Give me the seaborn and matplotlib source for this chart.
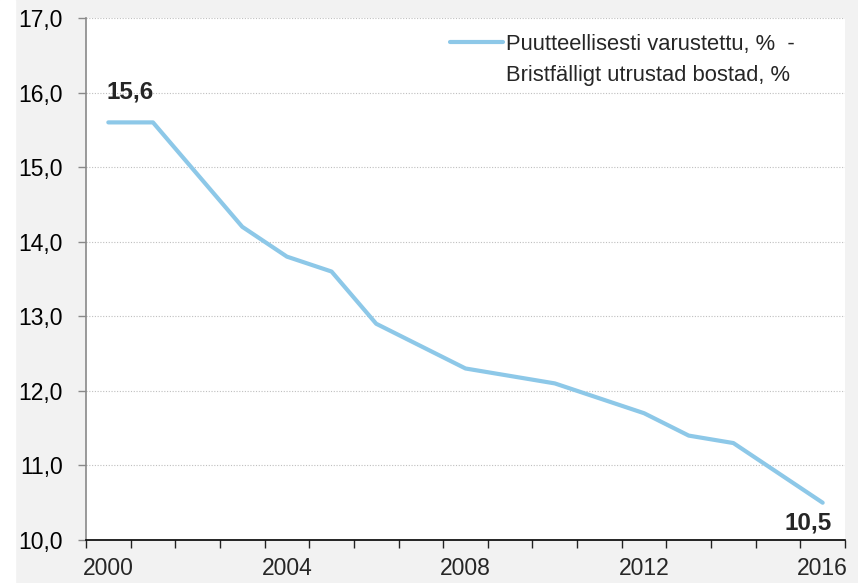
import matplotlib.pyplot as plt
import numpy as np
import seaborn as sns
from matplotlib.lines import Line2D
from matplotlib.patches import Rectangle
from matplotlib.ticker import FuncFormatter

years = [2000, 2001, 2002, 2003, 2004, 2005, 2006, 2007, 2008,
         2009, 2010, 2011, 2012, 2013, 2014, 2015, 2016]
values = [15.6, 15.6, 14.9, 14.2, 13.8, 13.6, 12.9, 12.6, 12.3,
          12.2, 12.1, 11.9, 11.7, 11.4, 11.3, 10.9, 10.5]
label_line1 = "Puutteellisesti varustettu, %  -"
label_line2 = "Bristfälligt utrustad bostad, %"
year_labels = [2000, 2004, 2008, 2012, 2016]

sns.set_style("white")
plt.rcParams['font.family'] = ['Liberation Sans', 'DejaVu Sans']

W, H = 858, 583
fig = plt.figure(figsize=(W / 100, H / 100), dpi=100, facecolor='#f2f2f2')
fig.patches.append(Rectangle((0, 0), 15 / W, 1, transform=fig.transFigure,
                             color='white', zorder=-1))
ax = fig.add_axes([86 / W, 43 / H, 759 / W, 522 / H])
ax.set_facecolor('white')

line_color = '#8DC8E8'
sns.lineplot(x=years, y=values, ax=ax, color=line_color, linewidth=3,
             legend=False, solid_capstyle='round', solid_joinstyle='round')

ax.set_xlim(years[0] - 0.5, years[-1] + 0.5)
ax.set_ylim(10, 17)

# y axis
ax.set_yticks(np.arange(10, 18, 1))
ax.yaxis.set_major_formatter(FuncFormatter(lambda v, p: f"{v:.1f}".replace('.', ',')))
ax.tick_params(axis='y', length=6, width=1, color='#898989', labelsize=16.5,
               labelcolor='black', pad=10.5, left=True)
ax.grid(axis='y', color='#bfbfbf', linestyle=(0, (1, 1.5)), linewidth=0.8)
ax.set_axisbelow(True)

# x axis: tick marks on category boundaries, labels on categories
ax.set_xticks(year_labels)
ax.set_xticklabels([str(y) for y in year_labels])
ax.set_xticks(np.arange(years[0] - 0.5, years[-1] + 1, 1), minor=True)
ax.tick_params(axis='x', which='major', length=0, labelsize=16.5, pad=12)
ax.tick_params(axis='x', which='minor', length=6, width=1, color='#222222', bottom=True)

for s in ['top', 'right']:
    ax.spines[s].set_visible(False)
ax.spines['left'].set_color('#898989')
ax.spines['left'].set_linewidth(1.2)
ax.spines['bottom'].set_color('black')
ax.spines['bottom'].set_linewidth(1.2)

# end value labels
ax.annotate(f"{values[0]:.1f}".replace('.', ','), xy=(years[0], values[0]),
            xytext=(22, 30), textcoords='offset pixels', ha='center', va='center',
            fontsize=17.5, fontweight='bold')
ax.annotate(f"{values[-1]:.1f}".replace('.', ','), xy=(years[-1], values[-1]),
            xytext=(-15, -20), textcoords='offset pixels', ha='center', va='center',
            fontsize=17.5, fontweight='bold')

handles = [Line2D([], [], color=line_color, linewidth=3, solid_capstyle='round'),
           Line2D([], [], alpha=0)]
ax.legend(handles, [label_line1, label_line2], loc='upper left',
          bbox_to_anchor=(450 / W, 1 - 34 / H), bbox_transform=fig.transFigure,
          frameon=False, fontsize=15.8, handlelength=2.42, handletextpad=0.14,
          borderpad=0, borderaxespad=0, labelspacing=0.45)

plt.savefig("out.png", dpi=100, facecolor=fig.get_facecolor())
